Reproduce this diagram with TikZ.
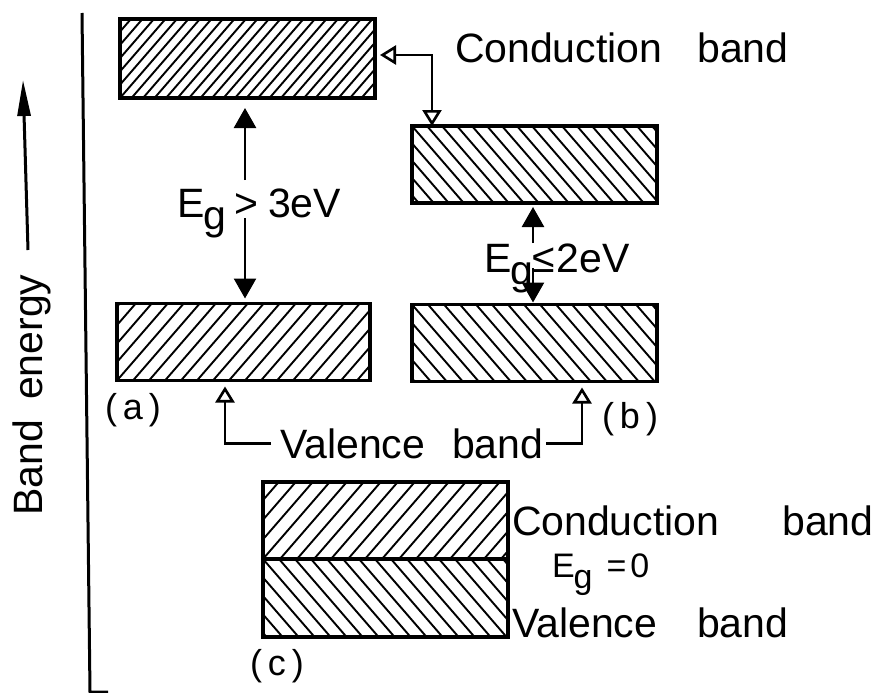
\documentclass[tikz,border=0pt]{standalone}
\usepackage{fontspec}
\setmainfont{Liberation Sans}
\usetikzlibrary{arrows.meta,calc}
\tikzset{
  hl/.style={line width=1.9pt},
  band/.style={draw, line width=3.3pt, rectangle, inner sep=0pt, outer sep=0pt},
  hatchR/.style={path picture={
     \foreach \k in {-12,...,40}
       \draw[hl] (path picture bounding box.south west) ++(\k*#1,0) -- ++(130,-150);}},
  hatchL/.style={path picture={
     \foreach \k in {-12,...,40}
       \draw[hl] (path picture bounding box.north west) ++(\k*#1,0) -- ++(130,150);}},
  lbl/.style={font=\fontsize{41}{49}\selectfont, inner sep=0pt, outer sep=0pt},
  smalllbl/.style={font=\fontsize{34}{40}\selectfont, inner sep=0pt, outer sep=0pt},
  caselbl/.style={font=\fontsize{36}{42}\selectfont, inner sep=0pt, outer sep=0pt},
  gaparrow/.style={line width=2.6pt, -{Triangle[length=20pt,width=22pt]}},
  openhead/.style={line width=2.6pt},
  axisline/.style={line width=3pt},
}
\begin{document}
\begin{tikzpicture}[x=1pt,y=-1pt]
\useasboundingbox (0,0) rectangle (875,693);

% energy axis
\coordinate (ax0) at (82,13);
\coordinate (ax1) at (90,692);
\coordinate (ax2) at (108,692);
\draw[axisline] (ax0) -- (ax1) -- (ax2);

\coordinate (be0) at (28,250);
\coordinate (be1) at (23,80);
\draw[line width=3pt, -{Triangle[length=36pt,width=13pt]}] (be0) -- (be1);
\node[lbl, rotate=90, anchor=base] (betxt) at (42,395) {Band\hspace{20pt}energy};

% (a)
\node[band, minimum width=255pt, minimum height=79pt, hatchR=11.5] (cA) at (247.5,58.5) {};
\node[band, minimum width=253pt, minimum height=77pt, hatchR=16] (vA) at (243.5,342) {};
% (b)
\node[band, minimum width=245pt, minimum height=77pt, hatchL=15] (cB) at (534.5,164.5) {};
\node[band, minimum width=245pt, minimum height=77pt, hatchL=16] (vB) at (534.5,343) {};
% (c)
\node[band, minimum width=245pt, minimum height=77pt, hatchR=17] (cC) at (385.5,520.5) {};
\node[band, minimum width=245pt, minimum height=78pt, hatchL=16] (vC) at (385.5,598) {};

% top conduction label and pointers
\node[lbl, anchor=base west] (tcb) at (455,63) {Conduction\hspace{35pt}band};
\coordinate (kc) at (432,55);
\draw[openhead, {Triangle[open,length=16pt,width=19pt]}-{Triangle[open,length=16pt,width=19pt]}, shorten <=5pt]
  (cA.east |- kc) -- (kc) -- (cB.north -| kc);

% band gap (a)
\node[lbl, anchor=base west] (egA) at (177,217) {E\kern-1pt\raisebox{-12pt}{g}\kern8pt>\kern10pt3eV};
\coordinate (ga1) at (245,180);
\coordinate (ga2) at (245,218);
\draw[gaparrow, shorten >=10pt] (ga1) -- (cA.south -| ga1);
\draw[gaparrow, shorten >=5pt] (ga2) -- (vA.north -| ga2);

% band gap (b)
\node[lbl, anchor=base west] (egB) at (484,272) {E\kern-1pt\raisebox{-12pt}{g}\kern-1pt≤\kern2pt2eV};
\coordinate (gb1) at (533,243);
\coordinate (gb2) at (533,268);
\draw[gaparrow, shorten >=4pt] (gb1) -- (cB.south -| gb1);
\draw[gaparrow, shorten >=2pt] (gb2) -- (vB.north -| gb2);

% case labels
\node[caselbl, anchor=base west] (la) at (105,419) {(\,a\,)};
\node[caselbl, anchor=base west] (lb) at (602,428) {(\,b\,)};
\node[caselbl, anchor=base west] (lc) at (250,675) {(\,c\,)};

% valence label and pointers
\node[lbl, anchor=base west] (vtxt) at (280,458) {Valence\hspace{27pt}band};
\coordinate (pa) at (225,443);
\coordinate (pb) at (582,443);
\draw[openhead, -{Triangle[open,length=16pt,width=19pt]}, shorten >=6pt]
  ([xshift=-9pt]vtxt.west) -- (vtxt.west -| pa) -- (vA.south -| pa);
\draw[openhead, -{Triangle[open,length=16pt,width=19pt]}, shorten >=6pt]
  ([xshift=3pt]vtxt.east) -- (vtxt.east -| pb) -- (vB.south -| pb);

% (c) labels
\node[lbl, anchor=base west] (ccb) at (512,535) {Conduction\hspace{63pt}band};
\node[smalllbl, anchor=base west] (egC) at (552,577) {E\kern-1pt\raisebox{-11pt}{g}\kern14pt=\kern4pt0};
\node[lbl, anchor=base west] (cvb) at (512,637) {Valence\hspace{40pt}band};
\end{tikzpicture}
\end{document}
